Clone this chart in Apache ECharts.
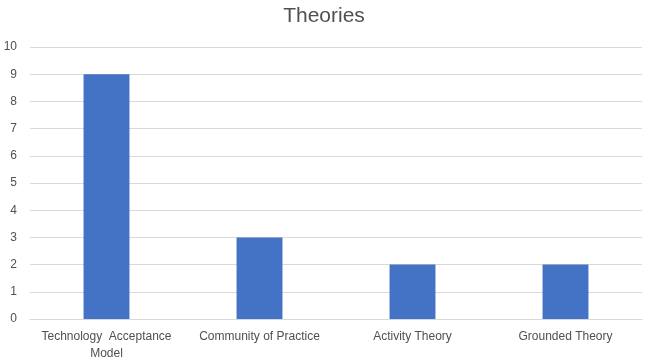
<!DOCTYPE html>
<html>
<head>
<meta charset="utf-8">
<script src="https://cdn.jsdelivr.net/npm/echarts@6/dist/echarts.min.js"></script>
<style>html,body{margin:0;padding:0;background:#fff;}#c{width:648px;height:362px;}</style>
</head>
<body>
<div id="c"></div>
<script>
var categories = ['Technology  Acceptance\nModel', 'Community of Practice', 'Activity Theory', 'Grounded Theory'];
var values = [9, 3, 2, 2];
var chart = echarts.init(document.getElementById('c'));
chart.setOption({
  animation: false,
  title: {
    text: 'Theories', left: 'center', top: 1,
    textStyle: { fontFamily: 'Liberation Sans', fontSize: 21, fontWeight: 'normal', color: '#505050' }
  },
  grid: { left: 30, right: 6, top: 47, bottom: 42 },
  xAxis: {
    type: 'category', data: categories,
    axisLine: { lineStyle: { color: '#d9d9d9' } },
    axisTick: { show: false },
    axisLabel: { fontFamily: 'Liberation Sans', fontSize: 12, color: '#505050', margin: 9, lineHeight: 17, interval: 0 }
  },
  yAxis: {
    type: 'value', min: 0, max: 10, interval: 1,
    axisLine: { show: false }, axisTick: { show: false },
    splitLine: { lineStyle: { color: '#d9d9d9' } },
    axisLabel: { fontFamily: 'Liberation Sans', fontSize: 12, color: '#505050', margin: 13 }
  },
  series: [{
    type: 'bar', data: values, barWidth: '30%',
    itemStyle: { color: '#4472c4' }
  }]
});
</script>
</body>
</html>
